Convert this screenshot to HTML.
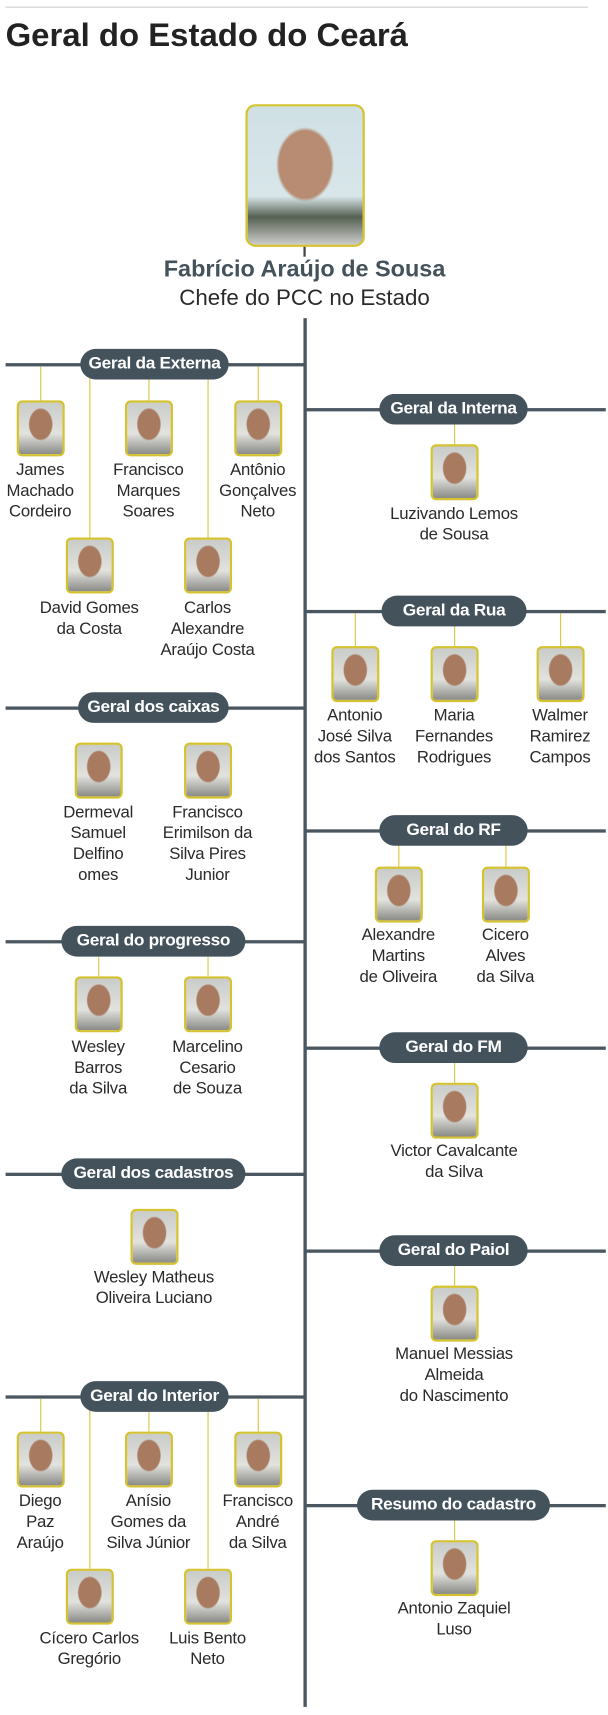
<!DOCTYPE html>
<html><head><meta charset="utf-8"><style>
html,body{margin:0;padding:0;background:#fff;width:608px;height:1715px;overflow:hidden}
#w{position:absolute;left:0;top:0;width:545px;height:1563px;transform:scale(1.1156,1.097);transform-origin:0 0;font-family:"Liberation Sans",sans-serif}
.a{position:absolute}
.h{position:absolute;height:3px;background:#4a5660}
.pill{position:absolute;height:28px;line-height:28px;border-radius:14px;background:#44525c;color:#fff;font-weight:bold;font-size:15.5px;text-align:center;letter-spacing:-0.3px}
.ph{position:absolute;width:39px;height:47px;border:2px solid #d4c230;border-radius:5px;background:radial-gradient(ellipse 11px 15px at 50% 42%,#a87a60 90%,transparent 100%),linear-gradient(#c9ccc9,#e2e2de 60%,#8a8a86)}
.v{position:absolute;width:1.2px;background:#d9c640}
.nm{position:absolute;width:150px;text-align:center;font-size:15px;line-height:19px;color:#2a2a2a;letter-spacing:-0.2px}
</style></head><body><div id="w">
<div class="a" style="left:5px;top:6px;width:522px;height:1px;background:#ccc"></div>
<div class="a" style="left:5px;top:16px;font-size:29.5px;font-weight:bold;color:#222;letter-spacing:0px">Geral do Estado do Ceará</div>
<div class="a" style="left:220px;top:95px;width:103px;height:126px;border:2px solid #d4c230;border-radius:9px;background:radial-gradient(ellipse 26px 34px at 50% 42%,#b78c72 90%,transparent 100%),linear-gradient(#cfe0e4,#d8e6ea 65%,#556050 80%,#ccc)"></div>
<div class="a" style="left:272px;top:225px;width:1.5px;height:9px;background:#444"></div>
<div class="a" style="left:73px;top:234px;width:400px;text-align:center;font-size:21px;font-weight:bold;color:#44525c">Fabrício Araújo de Sousa</div>
<div class="a" style="left:73px;top:261px;width:400px;text-align:center;font-size:20px;color:#2a2a2a">Chefe do PCC no Estado</div>
<div class="a" style="left:272px;top:290px;width:3px;height:1266px;background:#4a5660"></div>

<div class="h" style="left:5px;top:331px;width:268px"></div>
<div class="v" style="left:36px;top:334px;height:31px"></div><div class="v" style="left:133px;top:334px;height:31px"></div><div class="v" style="left:231px;top:334px;height:31px"></div>
<div class="v" style="left:80px;top:334px;height:156px"></div><div class="v" style="left:186px;top:334px;height:156px"></div>
<div class="pill" style="left:72px;top:318px;width:133px">Geral da Externa</div>
<div class="ph" style="left:15px;top:365px"></div><div class="ph" style="left:112px;top:365px"></div><div class="ph" style="left:210px;top:365px"></div>
<div class="nm" style="left:-39px;top:419px">James<br>Machado<br>Cordeiro</div>
<div class="nm" style="left:58px;top:419px">Francisco<br>Marques<br>Soares</div>
<div class="nm" style="left:156px;top:419px">Antônio<br>Gonçalves<br>Neto</div>
<div class="ph" style="left:59px;top:490px"></div><div class="ph" style="left:165px;top:490px"></div>
<div class="nm" style="left:5px;top:545px">David Gomes<br>da Costa</div>
<div class="nm" style="left:111px;top:545px">Carlos<br>Alexandre<br>Araújo Costa</div>

<div class="h" style="left:5px;top:644px;width:268px"></div>
<div class="pill" style="left:70px;top:631px;width:135px">Geral dos caixas</div>
<div class="ph" style="left:67px;top:677px"></div><div class="ph" style="left:165px;top:677px"></div>
<div class="nm" style="left:13px;top:731px">Dermeval<br>Samuel<br>Delfino<br>omes</div>
<div class="nm" style="left:111px;top:731px">Francisco<br>Erimilson da<br>Silva Pires<br>Junior</div>

<div class="h" style="left:5px;top:857px;width:268px"></div>
<div class="pill" style="left:55px;top:844px;width:165px">Geral do progresso</div>
<div class="v" style="left:88px;top:872px;height:18px"></div><div class="v" style="left:186px;top:872px;height:18px"></div>
<div class="ph" style="left:67px;top:890px"></div><div class="ph" style="left:165px;top:890px"></div>
<div class="nm" style="left:13px;top:945px">Wesley<br>Barros<br>da Silva</div>
<div class="nm" style="left:111px;top:945px">Marcelino<br>Cesario<br>de Souza</div>

<div class="h" style="left:5px;top:1069px;width:268px"></div>
<div class="pill" style="left:55px;top:1056px;width:165px">Geral dos cadastros</div>
<div class="ph" style="left:117px;top:1102px"></div>
<div class="nm" style="left:63px;top:1155px">Wesley Matheus<br>Oliveira Luciano</div>

<div class="h" style="left:5px;top:1272px;width:268px"></div>
<div class="v" style="left:36px;top:1275px;height:30px"></div><div class="v" style="left:133px;top:1275px;height:30px"></div><div class="v" style="left:231px;top:1275px;height:30px"></div>
<div class="v" style="left:80px;top:1275px;height:155px"></div><div class="v" style="left:186px;top:1275px;height:155px"></div>
<div class="pill" style="left:72px;top:1259px;width:133px">Geral do Interior</div>
<div class="ph" style="left:15px;top:1305px"></div><div class="ph" style="left:112px;top:1305px"></div><div class="ph" style="left:210px;top:1305px"></div>
<div class="nm" style="left:-39px;top:1359px">Diego<br>Paz<br>Araújo</div>
<div class="nm" style="left:58px;top:1359px">Anísio<br>Gomes da<br>Silva Júnior</div>
<div class="nm" style="left:156px;top:1359px">Francisco<br>André<br>da Silva</div>
<div class="ph" style="left:59px;top:1430px"></div><div class="ph" style="left:165px;top:1430px"></div>
<div class="nm" style="left:5px;top:1484px">Cícero Carlos<br>Gregório</div>
<div class="nm" style="left:111px;top:1484px">Luis Bento<br>Neto</div>

<div class="h" style="left:273px;top:372px;width:270px"></div>
<div class="v" style="left:407px;top:386px;height:19px"></div>
<div class="pill" style="left:340px;top:359px;width:133px">Geral da Interna</div>
<div class="ph" style="left:386px;top:405px"></div>
<div class="nm" style="left:332px;top:459px">Luzivando Lemos<br>de Sousa</div>

<div class="h" style="left:273px;top:556px;width:270px"></div>
<div class="v" style="left:318px;top:559px;height:30px"></div><div class="v" style="left:407px;top:559px;height:30px"></div><div class="v" style="left:502px;top:559px;height:30px"></div>
<div class="pill" style="left:342px;top:543px;width:130px">Geral da Rua</div>
<div class="ph" style="left:297px;top:589px"></div><div class="ph" style="left:386px;top:589px"></div><div class="ph" style="left:481px;top:589px"></div>
<div class="nm" style="left:243px;top:643px">Antonio<br>José Silva<br>dos Santos</div>
<div class="nm" style="left:332px;top:643px">Maria<br>Fernandes<br>Rodrigues</div>
<div class="nm" style="left:427px;top:643px">Walmer<br>Ramirez<br>Campos</div>

<div class="h" style="left:273px;top:756px;width:270px"></div>
<div class="v" style="left:357px;top:770px;height:20px"></div><div class="v" style="left:453px;top:770px;height:20px"></div>
<div class="pill" style="left:340px;top:743px;width:133px">Geral do RF</div>
<div class="ph" style="left:336px;top:790px"></div><div class="ph" style="left:432px;top:790px"></div>
<div class="nm" style="left:282px;top:843px">Alexandre<br>Martins<br>de Oliveira</div>
<div class="nm" style="left:378px;top:843px">Cicero<br>Alves<br>da Silva</div>

<div class="h" style="left:273px;top:954px;width:270px"></div>
<div class="v" style="left:407px;top:968px;height:19px"></div>
<div class="pill" style="left:340px;top:941px;width:133px">Geral do FM</div>
<div class="ph" style="left:386px;top:987px"></div>
<div class="nm" style="left:332px;top:1040px">Victor Cavalcante<br>da Silva</div>

<div class="h" style="left:273px;top:1139px;width:270px"></div>
<div class="v" style="left:407px;top:1153px;height:19px"></div>
<div class="pill" style="left:340px;top:1126px;width:133px">Geral do Paiol</div>
<div class="ph" style="left:386px;top:1172px"></div>
<div class="nm" style="left:332px;top:1225px">Manuel Messias<br>Almeida<br>do Nascimento</div>

<div class="h" style="left:273px;top:1371px;width:270px"></div>
<div class="v" style="left:407px;top:1385px;height:19px"></div>
<div class="pill" style="left:320px;top:1358px;width:173px">Resumo do cadastro</div>
<div class="ph" style="left:386px;top:1404px"></div>
<div class="nm" style="left:332px;top:1457px">Antonio Zaquiel<br>Luso</div>
</div></body></html>
